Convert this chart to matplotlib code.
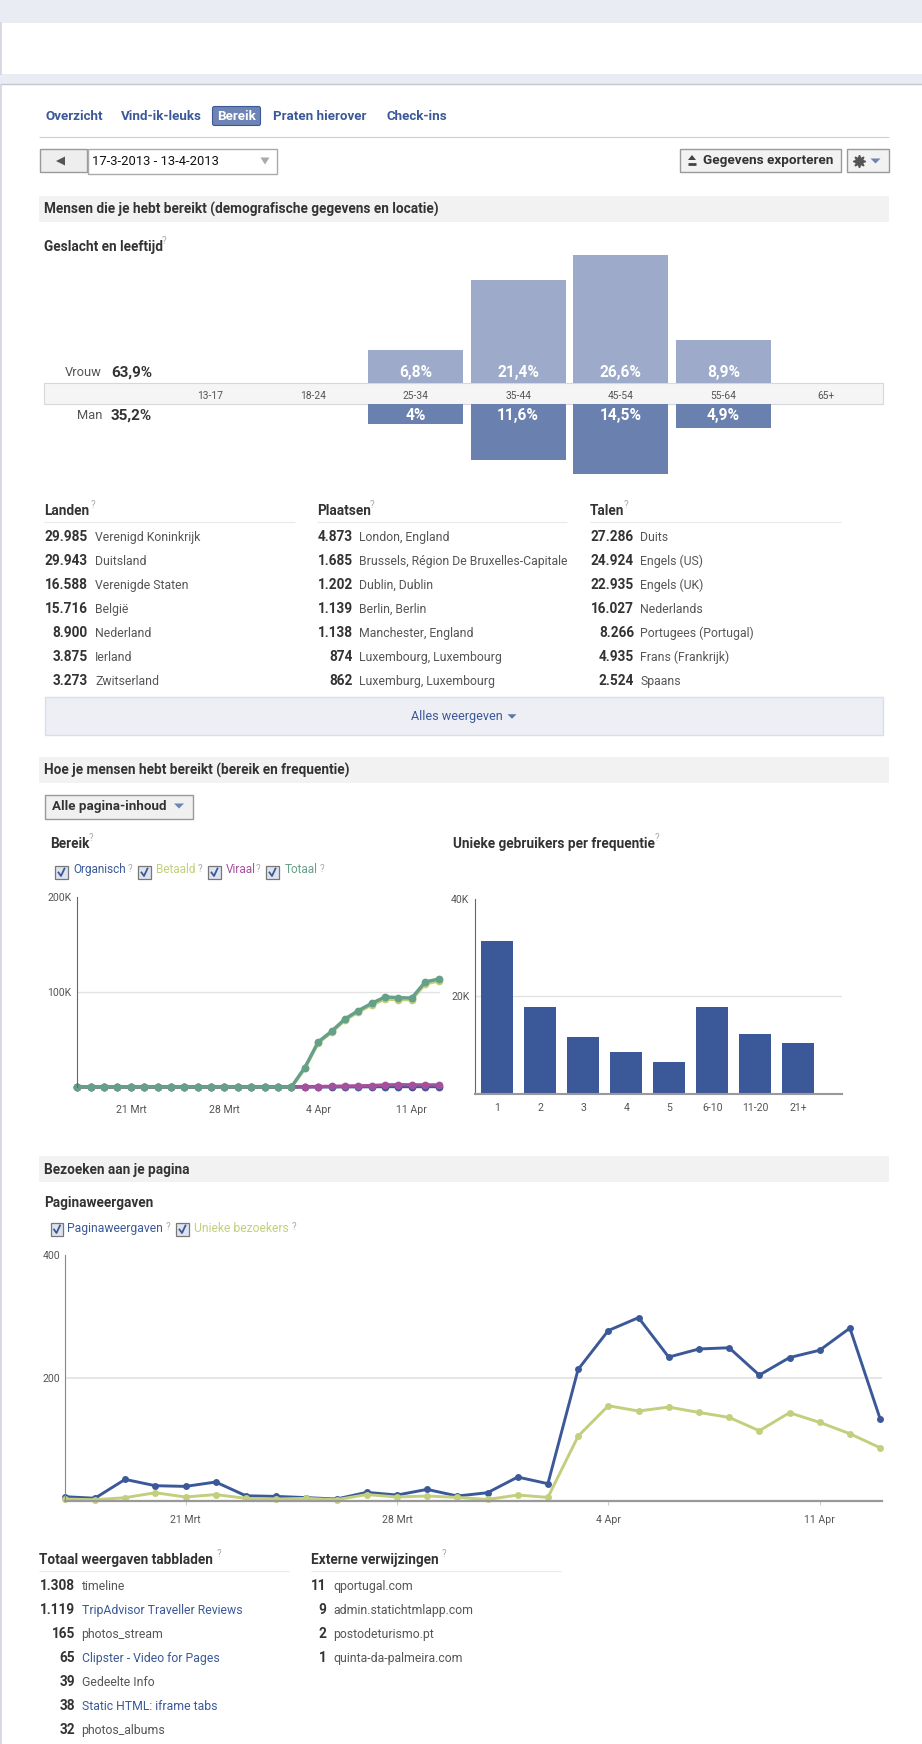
import matplotlib
matplotlib.use('Agg')
import matplotlib.pyplot as plt
from matplotlib.patches import Rectangle, FancyBboxPatch, Polygon

plt.rcParams['font.family'] = ['Roboto', 'DejaVu Sans']

W = 922
H = 1744

# --------------------
# Data

tabs = ['Overzicht', 'Vind-ik-leuks', 'Bereik', 'Praten hierover', 'Check-ins']

age_groups = ['13-17', '18-24', '25-34', '35-44', '45-54', '55-64', '65+']
vrouw = [0, 0, 6.8, 21.4, 26.6, 8.9, 0]
man = [0, 0, 4, 11.6, 14.5, 4.9, 0]
vrouw_labels = ['', '', '6,8%', '21,4%', '26,6%', '8,9%', '']
man_labels = ['', '', '4%', '11,6%', '14,5%', '4,9%', '']

landen_num = ['29.985', '29.943', '16.588', '15.716', '8.900', '3.875', '3.273']
landen = ['Verenigd Koninkrijk', 'Duitsland', 'Verenigde Staten', 'België', 'Nederland', 'Ierland', 'Zwitserland']
plaatsen_num = ['4.873', '1.685', '1.202', '1.139', '1.138', '874', '862']
plaatsen = ['London, England', 'Brussels, Région De Bruxelles-Capitale', 'Dublin, Dublin', 'Berlin, Berlin',
            'Manchester, England', 'Luxembourg, Luxembourg', 'Luxemburg, Luxembourg']
talen_num = ['27.286', '24.924', '22.935', '16.027', '8.266', '4.935', '2.524']
talen = ['Duits', 'Engels (US)', 'Engels (UK)', 'Nederlands', 'Portugees (Portugal)', 'Frans (Frankrijk)', 'Spaans']

# bereik, in K, 17 mrt - 13 apr
totaal = [0]*17 + [20.4, 47.4, 58.6, 71.6, 80.4, 88.1, 94.8, 94.1, 93.7, 110.6, 113.7]
betaald = [0]*17 + [19.5, 46.5, 57.5, 70.5, 79, 86.5, 92.5, 92, 92, 108.5, 111.7]
viraal = [0]*17 + [0.3, 0.5, 0.7, 1, 1.2, 1.5, 2.2, 2.4, 2.3, 2.2, 2.2]
organisch = [0]*17 + [0.1, 0.2, 0.2, 0.3, 0.3, 0.4, 0.5, 0.5, 0.5, 0.5, 0.5]

freq_labels = ['1', '2', '3', '4', '5', '6-10', '11-20', '21+']
freq = [31.4, 17.7, 11.6, 8.5, 6.5, 17.7, 12.3, 10.4]

weergaven = [6.5, 4, 34.7, 24.4, 23.3, 30.4, 8, 7, 5, 2.7, 13.6, 9.2, 18.4, 7.6, 13, 38.5, 27.7,
             213.7, 277, 298, 233.8, 247, 249, 204.5, 233, 245, 281, 133.4]
bezoekers = [2.7, 1.6, 4.9, 13, 6, 10, 3.8, 2.7, 3.8, 1.6, 10, 6, 7.6, 5.4, 2, 9.2, 5.4,
             105, 154.6, 146, 152.4, 143.7, 135.6, 113.9, 143.2, 127.5, 109, 86.2]

date_ticks = [4, 11, 18, 25]
date_labels = ['21 Mrt', '28 Mrt', '4 Apr', '11 Apr']

tabbladen_num = ['1.308', '1.119', '165', '65', '39', '38', '32']
tabbladen = ['timeline', 'TripAdvisor Traveller Reviews', 'photos_stream', 'Clipster - Video for Pages',
             'Gedeelte Info', 'Static HTML: iframe tabs', 'photos_albums']
tabbladen_link = [False, True, False, True, False, True, False]
extern_num = ['11', '9', '2', '1']
extern = ['qportugal.com', 'admin.statichtmlapp.com', 'postodeturismo.pt', 'quinta-da-palmeira.com']

# --------------------
# Colours

DARK = '#333333'
LINK = '#3b5998'
GREY_TXT = '#555555'
BAND = '#f2f2f2'
PAGE = '#e9ecf3'
C_ORG = '#3b5998'
C_BET = '#c3cf7c'
C_VIR = '#a5509c'
C_TOT = '#65a088'
BODY = 8.8
TITLE = 9.8
TICK = 7.6

fig = plt.figure(figsize=(W/100, H/100), dpi=100, facecolor='white')

# axes over the whole page, in pixels, for all the page furniture
ui = fig.add_axes([0, 0, 1, 1], zorder=0)
ui.set_xlim(0, W)
ui.set_ylim(H, 0)
ui.axis('off')


def axes_px(x0, y0, x1, y1):
    a = fig.add_axes([x0/W, 1 - y1/H, (x1 - x0)/W, (y1 - y0)/H], zorder=2)
    a.patch.set_alpha(0)
    return a


def rect(x0, y0, x1, y1, fc, ec='none', lw=1):
    ui.add_patch(Rectangle((x0, y0), x1 - x0, y1 - y0, facecolor=fc, edgecolor=ec, linewidth=lw))


def hline(x0, x1, y, c='#e6e6e6', lw=0.8):
    ui.plot([x0, x1], [y, y], color=c, lw=lw, solid_capstyle='butt')


def txt(x, y, s, c=DARK, size=BODY, bold=False, ha='left'):
    # +0.8: roboto sits a bit high with va=center
    ui.text(x, y + 0.8, s, color=c, fontsize=size, fontweight='bold' if bold else 'normal', ha=ha, va='center')


def qmark(x, y):
    ui.text(x, y, '?', color='#aaaaaa', fontsize=7, ha='center', va='center')


def tri(x, y, c, w=4.5, h=5):
    ui.add_patch(Polygon([(x - w, y - h/2), (x + w, y - h/2), (x, y + h/2)], facecolor=c, edgecolor='none'))


def checkbox(x, y):
    rect(x, y, x + 12.5, y + 12.5, '#dfe3ee', '#777777', 0.9)
    ui.plot([x + 3.5, x + 6, x + 9.5], [y + 6.5, y + 10, y + 2.5], color='#3b5998', lw=1.3)


def band(y0, y1, s):
    rect(39, y0, 889, y1, BAND)
    txt(44, (y0 + y1)/2, s, bold=True, size=TITLE)


# --------------------
# Page background

rect(0, 0, W, 23, PAGE)
rect(0, 74, W, 84, PAGE)
hline(0, W, 84.5, '#c5c8d4', 1)
ui.plot([1, 1], [23, 74], color='#d0d3e0', lw=1.2)
ui.plot([1, 1], [85, H], color='#d0d3e0', lw=1.2)

# tabs
ui.add_patch(FancyBboxPatch((212.5, 106.5), 48, 19, boxstyle='round,pad=0,rounding_size=2',
                            facecolor='#6d84b4', edgecolor='#3b5998', linewidth=0.8))
tab_x = [45, 120.5, 217, 273, 386]
for x, s in zip(tab_x, tabs):
    txt(x, 116, s, c='white' if s == 'Bereik' else LINK, bold=True, size=9.6)
hline(39, 889, 137, '#cfcfcf')

# date picker
rect(39.5, 149.5, 87, 172.5, '#eeeeee', '#999999')
ui.add_patch(Polygon([(56, 161), (65, 156.5), (65, 165.5)], facecolor='#555555', edgecolor='none'))
rect(87.5, 149.5, 276.5, 174.5, 'white', '#aaaaaa')
txt(92, 161, '17-3-2013 - 13-4-2013', c='#111111', size=9.4)
tri(265, 161, '#aaaaaa', 4.5, 7)

# export + settings buttons
rect(679.5, 149.5, 840.5, 172.5, '#f2f2f2', '#999999')
txt(703, 160, 'Gegevens exporteren', bold=True, size=9.7)
ui.add_patch(Polygon([(692, 155), (696, 160), (688, 160)], facecolor='#444444', edgecolor='none'))
hline(688, 696, 164, '#444444', 2)
rect(846.5, 149.5, 888.5, 172.5, '#f2f2f2', '#999999')
ui.plot([858.5], [161], marker=(8, 1, 0), ms=9, color='#555555')
tri(875.5, 161, '#6d84b4', 5, 5)

# --------------------
# Gender and age

band(196, 222, 'Mensen die je hebt bereikt (demografische gegevens en locatie)')
txt(44, 246.5, 'Geslacht en leeftijd', bold=True, size=TITLE)
qmark(164, 241)

rect(44, 383, 883, 404.5, '#f5f5f5', '#d8d8d8', 0.8)
txt(102, 372, 'Vrouw', c=GREY_TXT, ha='right', size=9.3)
txt(111, 372, '63,9%', bold=True, size=11)
txt(102, 415, 'Man', c=GREY_TXT, ha='right', size=9.3)
txt(111, 415, '35,2%', bold=True, size=11)

# 102.7 px per group, 4.8 px per percent
pos = list(range(len(age_groups)))
xl = ((44 - 210)/102.7, (883 - 210)/102.7)

ax_v = axes_px(44, 240, 883, 383)
ax_v.bar(pos, vrouw, width=0.925, color='#9daac9')
ax_v.set_xlim(xl)
ax_v.set_ylim(0, 143/4.8)
ax_v.set_yticks([])
ax_v.set_xticks(pos)
ax_v.set_xticklabels(age_groups, fontsize=7.4, color=GREY_TXT)
ax_v.tick_params(axis='x', length=0, pad=6)
for s in ax_v.spines.values():
    s.set_visible(False)
for i, lab in enumerate(vrouw_labels):
    ax_v.annotate(lab, (i, 0), xytext=(0, 7.5), textcoords='offset points', ha='center', va='center',
                  color='white', fontsize=11.2, fontweight='bold')

ax_m = axes_px(44, 404.5, 883, 490)
ax_m.bar(pos, man, width=0.925, color='#6a80ae')
ax_m.set_xlim(xl)
ax_m.set_ylim(85.5/4.8, 0)
ax_m.set_xticks([])
ax_m.set_yticks([])
for s in ax_m.spines.values():
    s.set_visible(False)
for i, lab in enumerate(man_labels):
    ax_m.annotate(lab, (i, 0), xytext=(0, -8), textcoords='offset points', ha='center', va='center',
                  color='white', fontsize=11.2, fontweight='bold')

# --------------------
# Lists


def table(title, qx, x_title, x_end, x_num, x_lab, y_title, y_line, y_first, nums, labels, links=None):
    txt(x_title, y_title, title, bold=True, size=TITLE)
    qmark(qx, y_title - 5.5)
    hline(x_title, x_end, y_line, '#e9e9e9')
    for i in range(len(nums)):
        y = y_first + 24*i
        txt(x_num, y, nums[i], bold=True, size=9.8, ha='right')
        c = LINK if links and links[i] else GREY_TXT
        txt(x_lab, y, labels[i], c=c)


table('Landen', 93, 44, 295, 87.5, 95, 510.5, 522.5, 536.5, landen_num, landen)
table('Plaatsen', 372, 317, 567, 353, 359, 510.5, 522.5, 536.5, plaatsen_num, plaatsen)
table('Talen', 626, 590, 841, 634, 640, 510.5, 522.5, 536.5, talen_num, talen)

rect(44.5, 696.5, 883, 735, '#edeff4', '#d8dfea')
txt(411, 716, 'Alles weergeven', c=LINK, size=9.1)
tri(512, 716.5, '#5c75a8', 4.5, 4.5)

# --------------------
# Reach

band(757, 783, 'Hoe je mensen hebt bereikt (bereik en frequentie)')
rect(44.5, 794.5, 192.5, 818.5, '#f0f0f0', '#999999')
txt(52, 806, 'Alle pagina-inhoud', bold=True, size=9.6)
tri(179, 806, '#6d84b4', 5, 5)

txt(50, 843, 'Bereik', bold=True, size=TITLE)
qmark(90.7, 837.5)
txt(452.5, 843, 'Unieke gebruikers per frequentie', bold=True, size=TITLE)
qmark(656.7, 837.5)

for bx, tx, qx, s, c in [(55, 73, 130, 'Organisch', C_ORG), (138, 156, 200, 'Betaald', C_BET),
                         (208, 226, 258, 'Viraal', C_VIR), (266, 285, 322, 'Totaal', C_TOT)]:
    checkbox(bx, 866)
    txt(tx, 869, s, c=c, size=8.5)
    qmark(qx, 868.5)

ax_r = axes_px(76.7, 897, 440, 1087)
xs = list(range(len(totaal)))
for ys, c in [(organisch, C_ORG), (betaald, C_BET), (viraal, C_VIR), (totaal, C_TOT)]:
    ax_r.plot(xs, ys, color=c, lw=2.4, marker='o', ms=5.6, mew=0, clip_on=False)
ax_r.set_xlim((76.7 - 77.3)/13.38, (440 - 77.3)/13.38)
ax_r.set_ylim(0, 200)
ax_r.set_yticks([100, 200])
ax_r.set_yticklabels(['100K', '200K'], fontsize=TICK, color=GREY_TXT)
ax_r.set_xticks(date_ticks)
ax_r.set_xticklabels(date_labels, fontsize=TICK, color=GREY_TXT)
ax_r.tick_params(axis='y', length=0, pad=4)
ax_r.tick_params(axis='x', length=0, pad=13)
ax_r.axhline(100, color='#e2e2e2', lw=1, zorder=0)
ax_r.spines['top'].set_visible(False)
ax_r.spines['right'].set_visible(False)
ax_r.spines['bottom'].set_visible(False)
ax_r.spines['left'].set_color('#666666')

ax_f = axes_px(475, 899, 842, 1093.5)
ax_f.axhline(20, color='#e2e2e2', lw=1, zorder=0)
ax_f.bar(range(len(freq)), freq, width=0.75, color=C_ORG, zorder=2)
ax_f.set_xlim((475 - 497.2)/43, (842 - 497.2)/43)
ax_f.set_ylim(0, 40)
ax_f.set_yticks([20, 40])
ax_f.set_yticklabels(['20K', '40K'], fontsize=TICK, color=GREY_TXT)
ax_f.set_xticks(range(len(freq)))
ax_f.set_xticklabels(freq_labels, fontsize=TICK, color=GREY_TXT)
ax_f.tick_params(axis='y', length=0, pad=4)
ax_f.tick_params(axis='x', length=0, pad=7)
ax_f.spines['top'].set_visible(False)
ax_f.spines['right'].set_visible(False)
ax_f.spines['left'].set_color('#666666')
ax_f.spines['bottom'].set_color('#999999')
ax_f.spines['bottom'].set_linewidth(1.5)

# --------------------
# Visits

band(1156, 1182, 'Bezoeken aan je pagina')
txt(44, 1202, 'Paginaweergaven', bold=True, size=TITLE)
checkbox(50.5, 1223)
txt(67, 1228, 'Paginaweergaven', c=C_ORG, size=8.7)
qmark(168, 1227)
checkbox(176, 1223)
txt(193.5, 1228, 'Unieke bezoekers', c=C_BET, size=8.7)
qmark(294, 1227)

ax_p = axes_px(64.7, 1255, 882, 1500.7)
xs = list(range(len(weergaven)))
ax_p.plot(xs, weergaven, color=C_ORG, lw=2.1, marker='o', ms=5, mew=0, clip_on=False)
ax_p.plot(xs, bezoekers, color=C_BET, lw=2.1, marker='o', ms=5, mew=0, clip_on=False)
ax_p.set_xlim(0, (882 - 64.7)/30.2)
ax_p.set_ylim(0, 400)
ax_p.set_yticks([200, 400])
ax_p.set_yticklabels(['200', '400'], fontsize=TICK, color=GREY_TXT)
ax_p.set_xticks(date_ticks)
ax_p.set_xticklabels(date_labels, fontsize=TICK, color=GREY_TXT)
ax_p.tick_params(axis='y', length=0, pad=3)
ax_p.tick_params(axis='x', length=3, width=0.8, color='#cccccc', pad=7)
ax_p.axhline(200, color='#e2e2e2', lw=1.2, zorder=0)
ax_p.spines['top'].set_visible(False)
ax_p.spines['right'].set_visible(False)
ax_p.spines['left'].set_color('#888888')
ax_p.spines['bottom'].set_color('#999999')
ax_p.spines['bottom'].set_linewidth(1.6)

table('Totaal weergaven tabbladen', 219, 39, 289, 75, 81.5, 1559, 1571, 1585.5, tabbladen_num, tabbladen, tabbladen_link)
table('Externe verwijzingen', 444, 311, 561, 326.5, 333.5, 1559, 1571, 1585.5, extern_num, extern)

fig.savefig('out.png', dpi=100, facecolor='white')
